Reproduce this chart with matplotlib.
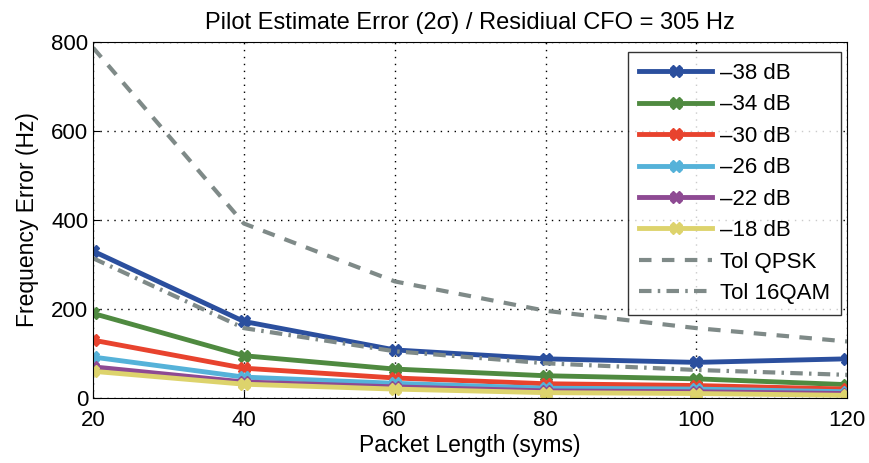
import numpy as np
import matplotlib.pyplot as plt

plt.rcParams['font.family'] = ['Liberation Sans', 'DejaVu Sans']

# packet lengths (syms)
lengths = [20, 40, 60, 80, 100, 120]

# frequency error (Hz) per pilot SNR
err_m38 = [330, 172, 108, 88, 80, 88]
err_m34 = [190, 95, 65, 50, 43, 30]
err_m30 = [130, 67, 45, 32, 28, 20]
err_m26 = [92, 47, 33, 22, 20, 14]
err_m22 = [70, 36, 25, 16, 14, 10]
err_m18 = [60, 31, 20, 12, 10, 6]

tol_qpsk = [787, 392, 262, 196, 157, 127]
tol_16qam = [314, 157, 105, 78, 63, 52]

labels = ['\u201338 dB', '\u201334 dB', '\u201330 dB', '\u201326 dB', '\u201322 dB', '\u201318 dB']
colors = ['#2b4f9e', '#4f8a40', '#e8432e', '#55b2d9', '#8e4a93', '#ddd36c']

fig = plt.figure(figsize=(8.7, 4.63), dpi=100)
ax = fig.add_axes([0.107, 0.1404, 0.8667, 0.769])

for ys, lab, c in zip([err_m38, err_m34, err_m30, err_m26, err_m22, err_m18], labels, colors):
    ax.plot(lengths, ys, color=c, lw=3.5, marker='X', ms=9, mew=1, label=lab)

ax.plot(lengths, tol_qpsk, color='#7f8a88', lw=3, ls=(0, (3, 2.5)), label='Tol QPSK')
ax.plot(lengths, tol_16qam, color='#7f8a88', lw=3, ls=(0, (3, 1.5, 0.6, 1.5)), label='Tol 16QAM')

ax.set_xlim(20, 120)
ax.set_ylim(0, 800)
ax.set_xticks([20, 40, 60, 80, 100, 120])
ax.set_yticks([0, 200, 400, 600, 800])
ax.tick_params(labelsize=16, direction='in', length=5)
ax.tick_params(axis='x', pad=9)
ax.grid(True, color='black', ls=(0, (1, 4)), lw=1)

ax.set_title('Pilot Estimate Error (2\u03c3) / Residiual CFO = 305 Hz', fontsize=17, pad=9)
ax.set_xlabel('Packet Length (syms)', fontsize=16.5, labelpad=2)
ax.set_ylabel('Frequency Error (Hz)', fontsize=16.5, labelpad=9)

leg = ax.legend(loc='upper right', bbox_to_anchor=(0.967, 0.888), bbox_transform=fig.transFigure,
                fontsize=16, frameon=True, fancybox=False, edgecolor='black',
                handlelength=3.3, handletextpad=0.35, labelspacing=0.47, borderpad=0.5,
                borderaxespad=0)
leg.get_frame().set_linewidth(1)

fig.savefig('out.png', dpi=100)
